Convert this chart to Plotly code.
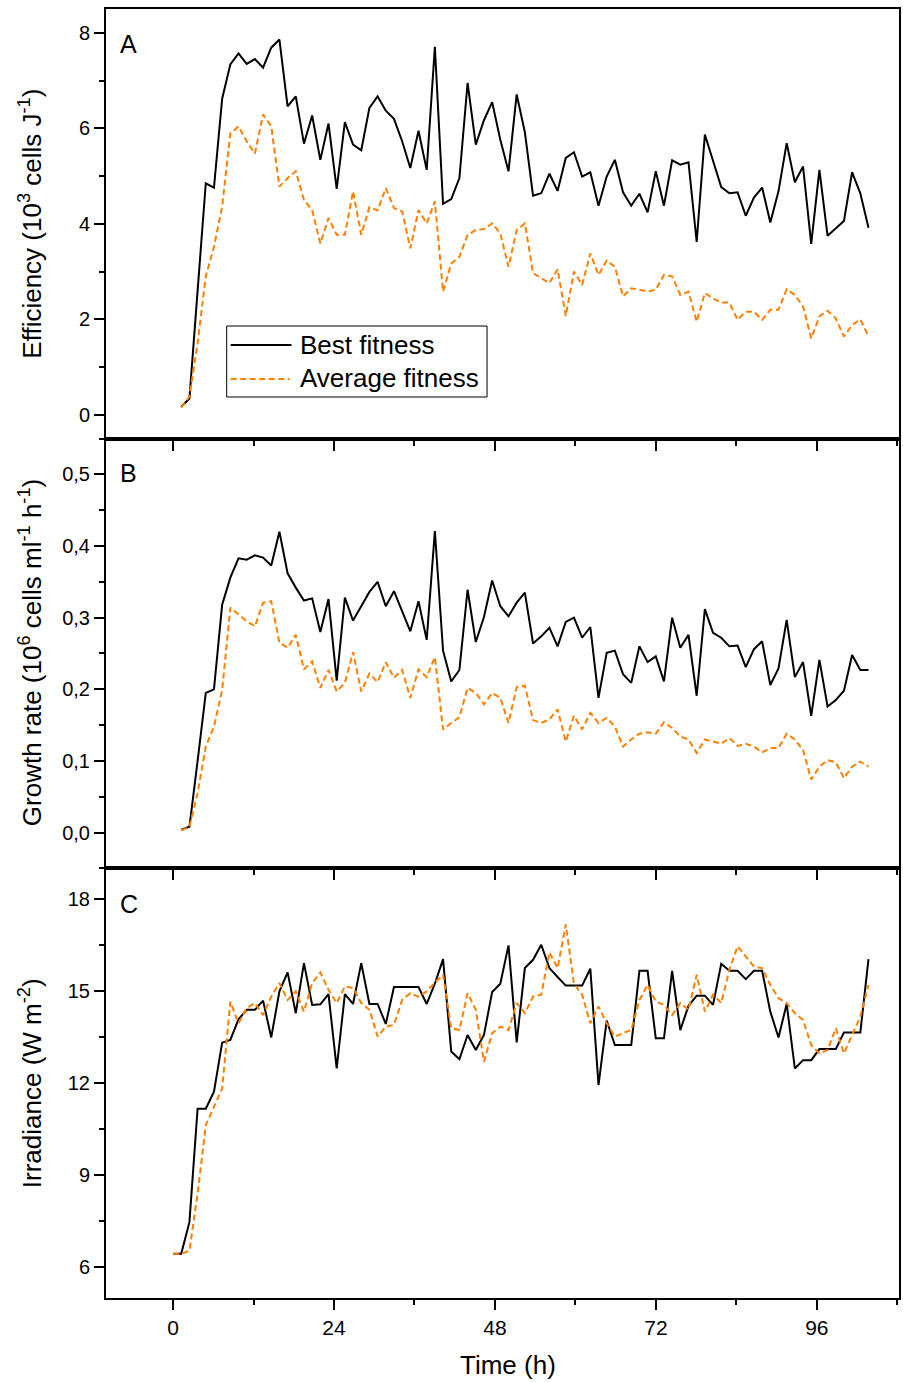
import plotly.graph_objects as go

# Sampling grid: one record per generation, 1.22 h per generation
GEN_HOURS = 1.22
time_h = [round(i * GEN_HOURS, 2) for i in range(86)]
time_fit = time_h[1:]  # fitness is recorded from the first generation on

# A: efficiency (10^3 cells J^-1)
eff_best = [0.17, 0.34, 2.6, 4.85, 4.76, 6.62, 7.34, 7.57, 7.35, 7.45,
            7.27, 7.69, 7.86, 6.46, 6.67, 5.68, 6.27, 5.34, 6.10, 4.73,
            6.13, 5.66, 5.54, 6.43, 6.67, 6.37, 6.20, 5.73, 5.17, 5.95,
            5.13, 7.71, 4.42, 4.52, 4.96, 6.95, 5.66, 6.17, 6.55, 5.76,
            5.10, 6.71, 5.92, 4.59, 4.64, 5.05, 4.69, 5.38, 5.50, 4.99,
            5.08, 4.38, 4.99, 5.34, 4.66, 4.38, 4.63, 4.24, 5.10, 4.38,
            5.33, 5.24, 5.29, 3.62, 5.87, 5.32, 4.77, 4.64, 4.66, 4.17,
            4.55, 4.76, 4.03, 4.68, 5.69, 4.87, 5.20, 3.58, 5.13, 3.75,
            3.91, 4.06, 5.08, 4.64, 3.92]
eff_avg = [0.15, 0.38, 1.50, 2.90, 3.52, 4.36, 5.90, 6.04, 5.73, 5.47,
           6.29, 6.04, 4.78, 4.96, 5.10, 4.50, 4.29, 3.59, 4.12, 3.77,
           3.77, 4.68, 3.77, 4.35, 4.28, 4.75, 4.33, 4.26, 3.49, 4.29,
           4.01, 4.47, 2.58, 3.17, 3.31, 3.77, 3.87, 3.89, 4.01, 3.80,
           3.10, 3.87, 4.01, 2.97, 2.86, 2.76, 3.05, 2.07, 3.00, 2.72,
           3.38, 2.93, 3.23, 3.10, 2.48, 2.65, 2.62, 2.58, 2.62, 2.93,
           2.90, 2.51, 2.58, 1.95, 2.55, 2.44, 2.35, 2.35, 1.99, 2.16,
           2.16, 1.99, 2.20, 2.20, 2.63, 2.51, 2.27, 1.60, 2.06, 2.18,
           2.02, 1.64, 1.88, 2.00, 1.64]

# B: growth rate (10^6 cells ml^-1 h^-1)
gr_best = [0.004, 0.008, 0.10, 0.195, 0.200, 0.318, 0.356, 0.383, 0.381, 0.387,
           0.384, 0.373, 0.420, 0.362, 0.342, 0.324, 0.327, 0.280, 0.326, 0.212,
           0.328, 0.296, 0.316, 0.336, 0.350, 0.316, 0.337, 0.309, 0.281, 0.323,
           0.269, 0.421, 0.254, 0.211, 0.227, 0.339, 0.266, 0.301, 0.352, 0.316,
           0.302, 0.321, 0.335, 0.264, 0.274, 0.286, 0.260, 0.294, 0.300, 0.272,
           0.287, 0.188, 0.251, 0.254, 0.221, 0.209, 0.260, 0.238, 0.246, 0.211,
           0.300, 0.258, 0.276, 0.191, 0.312, 0.279, 0.272, 0.260, 0.261, 0.231,
           0.256, 0.267, 0.206, 0.229, 0.297, 0.217, 0.238, 0.163, 0.241, 0.176,
           0.185, 0.198, 0.248, 0.227, 0.227]
gr_avg = [0.003, 0.008, 0.055, 0.120, 0.148, 0.199, 0.314, 0.304, 0.295, 0.288,
          0.321, 0.323, 0.265, 0.258, 0.276, 0.228, 0.239, 0.202, 0.227, 0.197,
          0.209, 0.252, 0.197, 0.222, 0.210, 0.238, 0.216, 0.227, 0.188, 0.228,
          0.217, 0.245, 0.144, 0.153, 0.161, 0.202, 0.195, 0.179, 0.195, 0.188,
          0.153, 0.203, 0.205, 0.157, 0.153, 0.158, 0.172, 0.127, 0.163, 0.144,
          0.167, 0.153, 0.160, 0.148, 0.120, 0.130, 0.138, 0.140, 0.138, 0.154,
          0.146, 0.134, 0.130, 0.111, 0.130, 0.127, 0.124, 0.132, 0.121, 0.124,
          0.120, 0.112, 0.118, 0.118, 0.138, 0.130, 0.115, 0.074, 0.092, 0.101,
          0.098, 0.076, 0.092, 0.099, 0.092]

# C: irradiance (W m^-2)
irr_best = [6.44, 6.44, 7.47, 11.17, 11.17, 11.72, 13.32, 13.41, 14.08, 14.39,
            14.39, 14.69, 13.49, 14.99, 15.61, 14.28, 15.91, 14.55, 14.57, 14.90,
            12.48, 14.90, 14.58, 15.91, 14.58, 14.58, 13.93, 15.13, 15.13, 15.13,
            15.13, 14.58, 15.24, 16.04, 13.03, 12.78, 13.57, 13.08, 13.57, 14.97,
            15.24, 16.49, 13.33, 15.75, 16.02, 16.51, 15.75, 15.46, 15.18, 15.18,
            15.18, 15.73, 11.94, 14.04, 13.24, 13.24, 13.24, 15.66, 15.66, 13.46,
            13.46, 15.66, 13.73, 14.52, 14.85, 14.85, 14.55, 15.89, 15.66, 15.66,
            15.39, 15.66, 15.66, 14.33, 13.49, 14.58, 12.48, 12.75, 12.75, 13.11,
            13.11, 13.11, 13.65, 13.65, 13.65, 16.04]
irr_avg = [6.44, 6.44, 6.54, 8.40, 10.63, 11.23, 11.83, 14.66, 13.95, 14.44,
           14.61, 14.22, 14.82, 15.26, 14.71, 14.99, 14.33, 15.26, 15.61, 15.04,
           14.61, 15.15, 15.10, 14.61, 14.39, 13.52, 13.84, 13.90, 14.71, 14.93,
           14.82, 14.99, 15.28, 15.53, 13.79, 13.73, 14.93, 14.39, 12.70, 13.63,
           13.84, 13.73, 14.61, 14.28, 14.82, 14.88, 16.26, 15.75, 17.17, 15.24,
           14.88, 13.95, 14.50, 13.95, 13.52, 13.63, 13.73, 14.71, 15.20, 14.66,
           14.55, 14.22, 14.61, 14.39, 15.53, 14.33, 14.88, 14.61, 15.70, 16.46,
           16.13, 15.80, 15.75, 15.20, 14.77, 14.61, 14.28, 14.06, 13.24, 12.97,
           13.08, 13.79, 12.97, 13.57, 14.17, 15.20]

x_ticks = [0, 24, 48, 72, 96]
panel_letters = ["A", "B", "C"]
series_names = ["Best fitness", "Average fitness"]

BLACK = "#000000"
ORANGE = "#FF8000"
FONT = "Liberation Sans, Arial, sans-serif"

W, H = 903, 1382
ML, MR, MT, MB = 106, 2, 9, 84
PW, PH = W - ML - MR, H - MT - MB


def px_x(px):
    return (px - ML) / PW


def px_y(py):
    return (H - MB - py) / PH


fig = go.Figure()

panels = [
    (time_fit, eff_best, eff_avg, "y"),
    (time_fit, gr_best, gr_avg, "y2"),
    (time_h, irr_best, irr_avg, "y3"),
]
for k, (t, best, avg, yax) in enumerate(panels):
    xax = "x" if k == 0 else f"x{k + 1}"
    fig.add_trace(go.Scatter(x=t, y=best, mode="lines", name=series_names[0],
                             line=dict(color=BLACK, width=2),
                             xaxis=xax, yaxis=yax, showlegend=False))
    fig.add_trace(go.Scatter(x=t, y=avg, mode="lines", name=series_names[1],
                             line=dict(color=ORANGE, width=2, dash="6px,3.5px"),
                             xaxis=xax, yaxis=yax, showlegend=False))

common_x = dict(range=[-10, 108.25], tickvals=x_ticks, ticks="outside", ticklen=10,
                tickwidth=2, tickcolor=BLACK, showline=True, linewidth=2,
                linecolor=BLACK, mirror=True, showgrid=False, zeroline=False,
                minor=dict(dtick=12, tick0=0, ticks="outside", ticklen=5,
                           tickwidth=2, tickcolor=BLACK))
common_y = dict(ticks="outside", ticklen=10, tickwidth=2, tickcolor=BLACK,
                showline=True, linewidth=2, linecolor=BLACK, mirror=True,
                showgrid=False, zeroline=False,
                tickfont=dict(family=FONT, size=20, color=BLACK))

fig.update_layout(
    width=W, height=H,
    margin=dict(l=ML, r=MR, t=MT, b=MB),
    plot_bgcolor="white", paper_bgcolor="white",
    separators=",.",
    font=dict(family=FONT, size=20, color=BLACK),
    xaxis=dict(common_x, anchor="y", showticklabels=False, matches="x3"),
    xaxis2=dict(common_x, anchor="y2", showticklabels=False, matches="x3"),
    xaxis3=dict(common_x, anchor="y3", showticklabels=True,
                tickfont=dict(family=FONT, size=21, color=BLACK)),
    yaxis=dict(common_y, domain=[2 / 3, 1], range=[-0.5, 8.5],
               tickvals=[0, 2, 4, 6, 8],
               minor=dict(dtick=1, tick0=0, ticks="outside", ticklen=5,
                          tickwidth=2, tickcolor=BLACK)),
    yaxis2=dict(common_y, domain=[1 / 3, 2 / 3], range=[-0.05, 0.55],
                tickvals=[0, 0.1, 0.2, 0.3, 0.4, 0.5], tickformat=".1f",
                minor=dict(dtick=0.05, tick0=0, ticks="outside", ticklen=5,
                           tickwidth=2, tickcolor=BLACK)),
    yaxis3=dict(common_y, domain=[0, 1 / 3], range=[5, 19],
                tickvals=[6, 9, 12, 15, 18],
                minor=dict(dtick=1.5, tick0=6, ticks="outside", ticklen=5,
                           tickwidth=2, tickcolor=BLACK)),
)

annotations = []
# axis titles
y_titles = [
    ("Efficiency (10<sup>3</sup> cells J<sup>-1</sup>)", 223.5),
    ("Growth rate (10<sup>6</sup> cells ml<sup>-1</sup> h<sup>-1</sup>)", 653),
    ("Irradiance (W m<sup>-2</sup>)", 1083),
]
for text, cy in y_titles:
    annotations.append(dict(text=text, xref="paper", yref="paper",
                            x=px_x(30), y=px_y(cy), xanchor="center",
                            yanchor="middle", textangle=-90, showarrow=False,
                            font=dict(family=FONT, size=26, color=BLACK)))
annotations.append(dict(text="Time (h)", xref="paper", yref="paper",
                        x=px_x(509), y=px_y(1365), xanchor="center",
                        yanchor="middle", showarrow=False,
                        font=dict(family=FONT, size=26, color=BLACK)))
# panel letters
for letter, cy in zip(panel_letters, [44, 473, 904]):
    annotations.append(dict(text=letter, xref="paper", yref="paper",
                            x=px_x(129), y=px_y(cy), xanchor="center",
                            yanchor="middle", showarrow=False,
                            font=dict(family=FONT, size=25, color=BLACK)))

# legend box in panel A
shapes = [
    dict(type="rect", xref="paper", yref="paper",
         x0=px_x(227), x1=px_x(488), y0=px_y(397), y1=px_y(326),
         line=dict(color=BLACK, width=1), fillcolor="white", layer="above"),
    dict(type="line", xref="paper", yref="paper",
         x0=px_x(231), x1=px_x(292), y0=px_y(345), y1=px_y(345),
         line=dict(color=BLACK, width=2), layer="above"),
    dict(type="line", xref="paper", yref="paper",
         x0=px_x(231), x1=px_x(290), y0=px_y(379), y1=px_y(379),
         line=dict(color=ORANGE, width=2, dash="6px,3.5px"), layer="above"),
]
for name, cy in zip(series_names, [345, 378]):
    annotations.append(dict(text=name, xref="paper", yref="paper",
                            x=px_x(298), y=px_y(cy), xanchor="left",
                            yanchor="middle", showarrow=False,
                            font=dict(family=FONT, size=26, color=BLACK)))

fig.update_layout(annotations=annotations, shapes=shapes)

fig.write_html("out.html")
